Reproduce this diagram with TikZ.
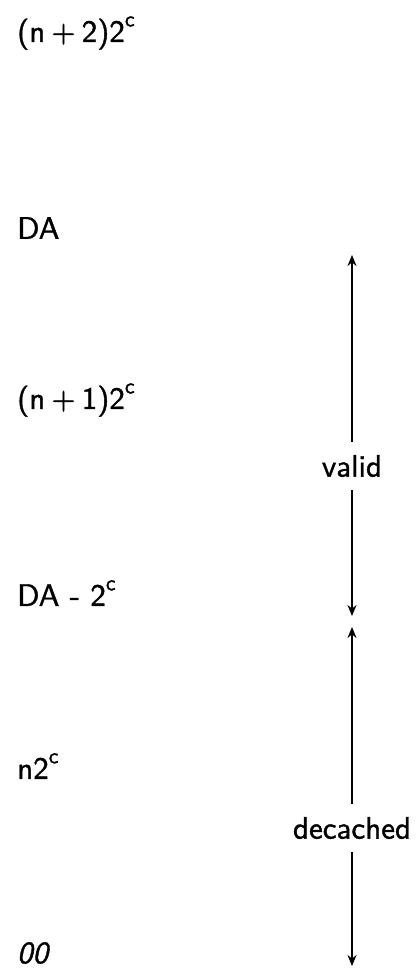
\documentclass[tikz,border=0pt]{standalone}
\usepackage{fontspec}
\usetikzlibrary{arrows.meta}
\newfontface\lmsb{lmsans10-regular.otf}[FakeBold=1.2]
\newfontface\lmso{lmsans10-oblique.otf}[FakeBold=1.2]
\newcommand{\pl}{\hspace{0.2em}+\hspace{0.2em}}
\newcommand{\supc}{\raisebox{0.5em}{\fontsize{22}{24}\selectfont c}}
\begin{document}
\begin{tikzpicture}[x=1pt,y=-1pt,
  lbl/.style={anchor=west,inner sep=0pt,font=\fontsize{31}{36}\selectfont\lmsb},
  rng/.style={inner xsep=0pt,inner ysep=13pt,font=\fontsize{31}{36}\selectfont\lmsb},
  arr/.style={line width=2.1pt,-{Stealth[length=11pt,width=9pt]}}]
\useasboundingbox (0,0) rectangle (415,968);
\node[lbl] (n2) at (17,33) {(n\pl 2)2\supc};
\node[lbl] (da) at (17,228) {DA};
\node[lbl] (n1) at (17,400) {(n\pl 1)2\supc};
\node[lbl] (dam) at (17,593) {DA - 2\supc};
\node[lbl] (n0) at (17,766) {n2\supc};
\node[lbl] (z) at (17,953) {\lmso 00};
\coordinate (vt) at (352,255);
\coordinate (vb) at (352,616);
\coordinate (dt) at (352,627);
\coordinate (db) at (352,966);
\node[rng] (valid) at (352,466) {valid};
\node[rng] (dec) at (352,828) {decached};
\draw[arr] (valid.north) -- (vt);
\draw[arr] (valid.south) -- (vb);
\draw[arr] (dec.north) -- (dt);
\draw[arr] (dec.south) -- (db);
\end{tikzpicture}
\end{document}
